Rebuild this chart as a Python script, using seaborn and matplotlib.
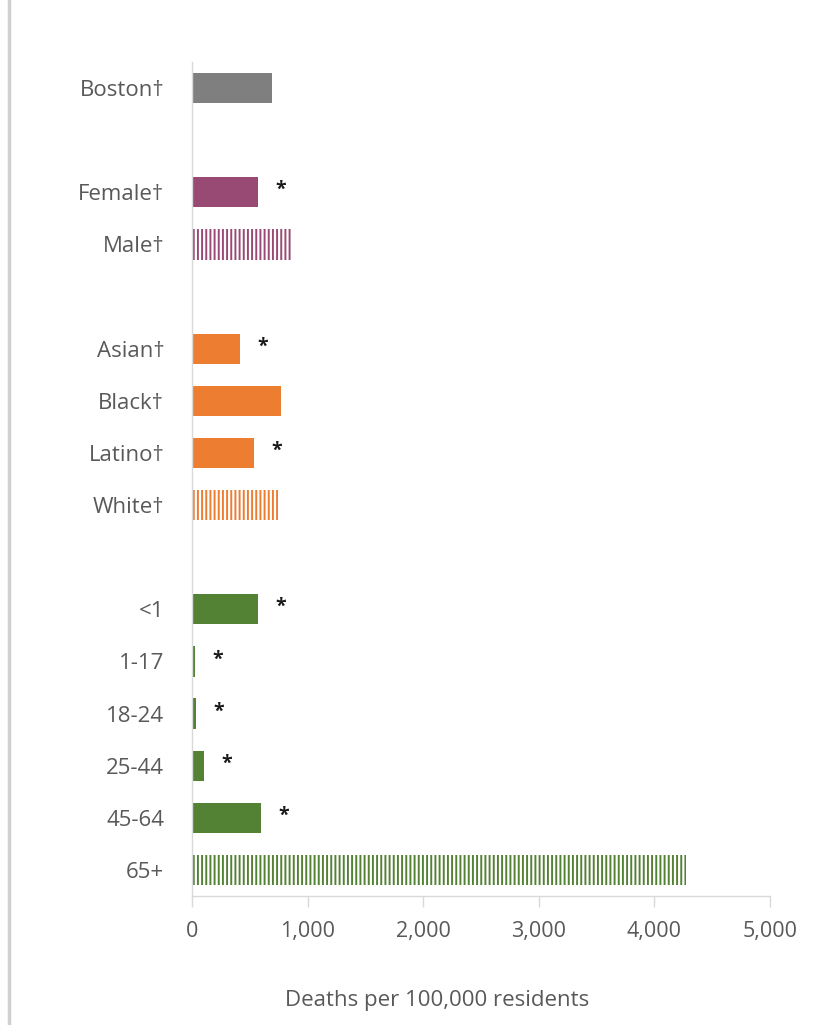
import matplotlib
matplotlib.use("Agg")
import matplotlib.pyplot as plt
from matplotlib.lines import Line2D
import seaborn as sns
import pandas as pd
import numpy as np

# ---- data ----
categories = ["Boston†", "Female†", "Male†", "Asian†", "Black†", "Latino†", "White†",
              "<1", "1-17", "18-24", "25-44", "45-64", "65+"]
values = [690, 570, 860, 415, 770, 535, 745, 570, 25, 35, 105, 595, 4270]
groups = ["all", "sex", "sex", "race", "race", "race", "race",
          "age", "age", "age", "age", "age", "age"]
significant = [False, True, False, True, False, True, False,
               True, True, True, True, True, False]
reference_group = [False, False, True, False, False, False, True,
                   False, False, False, False, False, True]
order = ["Boston†", "_g1", "Female†", "Male†", "_g2", "Asian†", "Black†", "Latino†",
         "White†", "_g3", "<1", "1-17", "18-24", "25-44", "45-64", "65+"]
xticks = [0, 1000, 2000, 3000, 4000, 5000]
xlabel = "Deaths per 100,000 residents"

group_colors = {"all": "#7f7f7f", "sex": "#984a74", "race": "#ed7d31", "age": "#548235"}

df = pd.DataFrame({"category": categories, "value": values, "group": groups})

sns.set_theme(style="white")
plt.rcParams["font.family"] = ["Open Sans", "DejaVu Sans"]
plt.rcParams["hatch.linewidth"] = 1.4
plt.rcParams["xtick.bottom"] = True

fig = plt.figure(figsize=(8.17, 10.25), dpi=100)
ax = fig.add_axes([192 / 817, 1 - 896 / 1025, (770 - 192) / 817, (896 - 62) / 1025])

palette = {c: group_colors[g] for c, g in zip(categories, groups)}
sns.barplot(data=df, x="value", y="category", hue="category", order=order,
            palette=palette, orient="h", width=0.58, legend=False, ax=ax,
            saturation=1, linewidth=0)

for p in ax.patches:
    yc = p.get_y() + p.get_height() / 2
    slot = int(round(yc))
    name = order[slot]
    if name in categories:
        i = categories.index(name)
        col = group_colors[groups[i]]
        if reference_group[i]:
            p.set_facecolor("white")
            p.set_edgecolor(col)
            p.set_hatch("||||")
            p.set_linewidth(0)
        if significant[i]:
            ax.annotate("*", xy=(values[i], slot), xytext=(16.5, 1.5),
                        textcoords="offset points", ha="center", va="center",
                        fontsize=14, fontweight="bold", color="#1a1a1a")

ax.set_xlim(0, 5000)
ax.set_ylim(len(order) - 0.5, -0.5)
ax.set_xticks(xticks)
ax.set_xticklabels([f"{t:,}" for t in xticks], fontsize=15.5, color="#595959")
ax.set_yticks(range(len(order)))
ax.set_yticklabels(["" if o.startswith("_g") else o for o in order],
                   fontsize=16, color="#595959")
ax.tick_params(axis="y", length=0, pad=20)
ax.tick_params(axis="x", bottom=True, length=8, width=1, color="#d9d9d9",
               direction="out", pad=10)
ax.set_xlabel(xlabel, fontsize=16, color="#595959", va="center")
ax.xaxis.set_label_coords(0.424, -0.125)
ax.set_ylabel("")

for s in ["top", "right"]:
    ax.spines[s].set_visible(False)
ax.spines["left"].set_color("#d9d9d9")
ax.spines["bottom"].set_color("#d9d9d9")
ax.spines["left"].set_linewidth(1)
ax.spines["bottom"].set_linewidth(1)

fig.add_artist(Line2D([9 / 817, 9 / 817], [0, 1], color="#d0d0d0", linewidth=2.5,
                      transform=fig.transFigure))

fig.savefig("out.png", dpi=100, facecolor="white")
